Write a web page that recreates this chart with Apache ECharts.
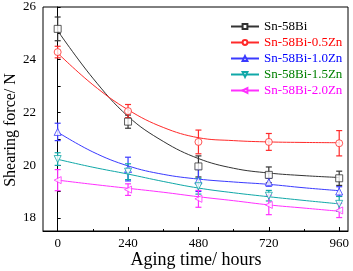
<!DOCTYPE html>
<html>
<head>
<meta charset="utf-8">
<script src="https://cdn.jsdelivr.net/npm/echarts@6/dist/echarts.min.js"></script>
<style>html,body{margin:0;padding:0;background:#fff}#c{width:353px;height:271px}</style>
</head>
<body>
<div id="c"></div>
<script>
// ---- data ----
var seriesNames = ['Sn-58Bi', 'Sn-58Bi-0.5Zn', 'Sn-58Bi-1.0Zn', 'Sn-58Bi-1.5Zn', 'Sn-58Bi-2.0Zn'];
var agingTimes = [0, 240, 480, 720, 960];
var meanBi    = [25.17, 21.65, 19.95, 19.63, 19.50];
var errBi     = [0.45, 0.25, 0.40, 0.30, 0.27];
var mean05Zn  = [24.29, 22.05, 20.88, 20.88, 20.83];
var err05Zn   = [0.22, 0.25, 0.45, 0.32, 0.48];
var mean10Zn  = [21.26, 19.85, 19.42, 19.35, 19.00];
var err10Zn   = [0.33, 0.45, 0.42, 0.15, 0.18];
var mean15Zn  = [20.23, 19.75, 19.20, 18.84, 18.53];
var err15Zn   = [0.24, 0.30, 0.30, 0.20, 0.28];
var mean20Zn  = [19.43, 19.07, 18.72, 18.49, 18.28];
var err20Zn   = [0.40, 0.22, 0.32, 0.37, 0.27];
// fitted curves
var fitTimes  = [0, 120, 240, 360, 480, 600, 720, 840, 960];
var fitBi     = [25.10, 23.30, 21.85, 20.90, 20.25, 19.88, 19.70, 19.60, 19.53];
var fit05Zn   = [24.25, 23.05, 22.10, 21.43, 21.04, 20.93, 20.88, 20.86, 20.85];
var fit10Zn   = [21.25, 20.50, 19.97, 19.65, 19.47, 19.36, 19.27, 19.14, 19.03];
var fit15Zn   = [20.22, 19.92, 19.66, 19.38, 19.13, 18.95, 18.80, 18.66, 18.53];
var fit20Zn   = [19.43, 19.27, 19.12, 18.97, 18.80, 18.65, 18.49, 18.37, 18.25];
var xTickLabels = [0, 240, 480, 720, 960];
var xMinorTicks = [120, 360, 600, 840];
var yTickLabels = [18, 20, 22, 24, 26];
var yTicks = [18, 19, 20, 21, 22, 23, 24, 25, 26];
var xTitle = 'Aging time/ hours';
var yTitle = 'Shearing force/ N';

var lineColors = ['#333333', '#ff2a2a', '#3a3aff', '#10a8a8', '#ff30ff'];
var textColors = ['#000000', '#ff0000', '#0000ff', '#008000', '#ff00ff'];
var symbols = ['rect', 'circle', 'triangle', 'triangle', 'triangle'];
var rotates = [0, 0, 0, 180, 90];
var means = [meanBi, mean05Zn, mean10Zn, mean15Zn, mean20Zn];
var errs = [errBi, err05Zn, err10Zn, err15Zn, err20Zn];
var fits = [fitBi, fit05Zn, fit10Zn, fit15Zn, fit20Zn];

var FONT = 'Liberation Serif';
var series = [];
for (var i = 0; i < 5; i++) {
  (function (i) {
    var fitData = fitTimes.map(function (t, k) { return [t, fits[i][k]]; });
    series.push({
      name: seriesNames[i], type: 'line', smooth: 0.4, data: fitData,
      showSymbol: false, symbol: symbols[i], symbolRotate: rotates[i], symbolSize: 5,
      lineStyle: { color: lineColors[i], width: 1 },
      itemStyle: { color: '#fff', borderColor: lineColors[i], borderWidth: 1 },
      emphasis: { disabled: true }, z: 2
    });
    var ebData = agingTimes.map(function (t, k) { return [t, means[i][k] - errs[i][k], means[i][k] + errs[i][k]]; });
    series.push({
      name: seriesNames[i], type: 'custom', data: ebData, z: 3,
      renderItem: function (params, api) {
        var x = api.value(0);
        var top = api.coord([x, api.value(2)]);
        var bot = api.coord([x, api.value(1)]);
        var st = { stroke: lineColors[i], lineWidth: 1.2 };
        return { type: 'group', children: [
          { type: 'line', shape: { x1: top[0], y1: top[1], x2: bot[0], y2: bot[1] }, style: st },
          { type: 'line', shape: { x1: top[0] - 3, y1: top[1], x2: top[0] + 3, y2: top[1] }, style: st },
          { type: 'line', shape: { x1: bot[0] - 3, y1: bot[1], x2: bot[0] + 3, y2: bot[1] }, style: st }
        ]};
      }
    });
    series.push({
      name: seriesNames[i], type: 'scatter', z: 4,
      data: agingTimes.map(function (t, k) { return [t, means[i][k]]; }),
      symbol: symbols[i], symbolRotate: rotates[i], symbolSize: 7,
      itemStyle: { color: '#fff', borderColor: lineColors[i], borderWidth: 1 }
    });
  })(i);
}

var chart = echarts.init(document.getElementById('c'), null, { renderer: 'canvas' });
chart.setOption({
  animation: false,
  backgroundColor: '#fff',
  grid: { left: 43, right: 5, top: 7, bottom: 40, show: true, borderColor: '#000', borderWidth: 1, outerBoundsMode: 'none' },
  legend: {
    orient: 'vertical', left: 225, top: 15, itemWidth: 28, itemHeight: 6, itemGap: 3,
    data: seriesNames.map(function (n, i) { return { name: n, textStyle: { color: textColors[i] } }; }),
    textStyle: { fontFamily: FONT, fontSize: 13, padding: [0, 0, 0, 0] },
    selectedMode: false
  },
  graphic: [{
    type: 'text', x: 11, y: 130, rotation: Math.PI / 2,
    style: { text: yTitle, font: '16px "Liberation Serif"', fill: '#000', align: 'center', verticalAlign: 'middle' }
  }, {
    type: 'text', x: 196, y: 260,
    style: { text: xTitle, font: '18px "Liberation Serif"', fill: '#000', align: 'center', verticalAlign: 'middle' }
  }],
  xAxis: [{
    type: 'value', min: -50, max: 990,
    axisLine: { lineStyle: { color: '#000', width: 1 } },
    axisTick: { inside: true, length: 4, customValues: xTickLabels, lineStyle: { color: '#000' } },
    axisLabel: { customValues: xTickLabels, fontFamily: FONT, fontSize: 13, color: '#000', margin: 6 },
    splitLine: { show: false }
  }, {
    type: 'value', min: -50, max: 990, position: 'bottom',
    axisLine: { show: false },
    axisTick: { inside: true, length: 2, customValues: xMinorTicks, lineStyle: { color: '#000' } },
    axisLabel: { show: false }, splitLine: { show: false }
  }],
  yAxis: {
    type: 'value', min: 17.5, max: 26,
    axisLine: { show: true, lineStyle: { color: '#000', width: 1 } },
    axisTick: { show: true, inside: true, length: 3, customValues: yTicks, lineStyle: { color: '#000' } },
    axisLabel: { customValues: yTickLabels, fontFamily: FONT, fontSize: 13, color: '#000', margin: 7 },
    splitLine: { show: false }
  },
  series: series
});
</script>
</body>
</html>
